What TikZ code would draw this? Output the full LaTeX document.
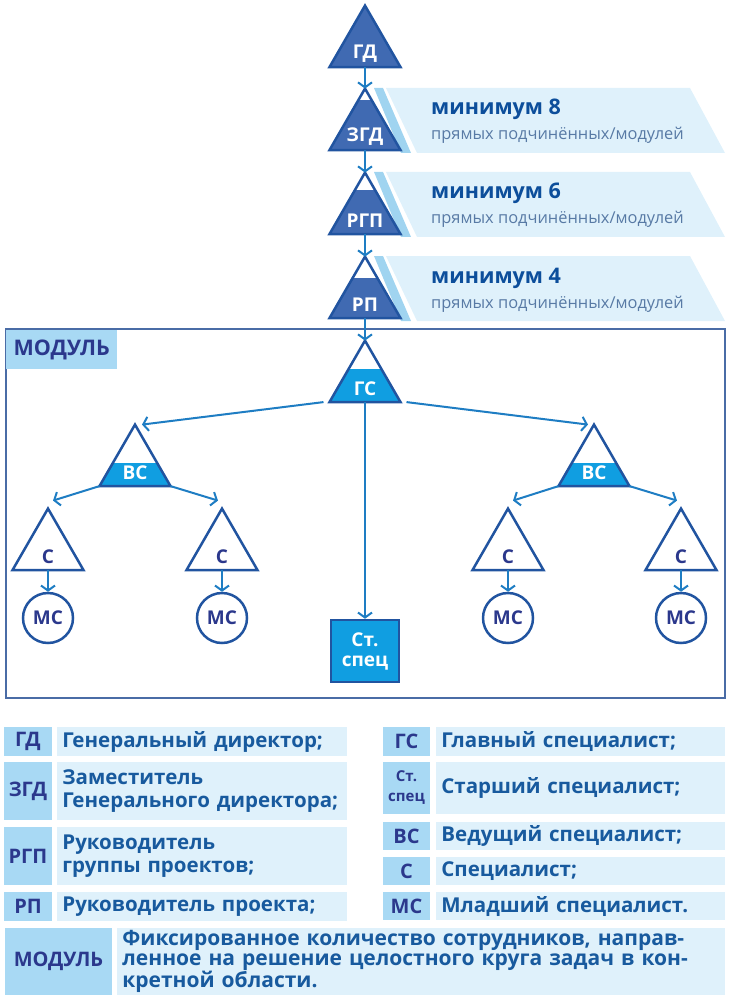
\documentclass[tikz,border=0pt]{standalone}
\usepackage{fontspec}
\setmainfont{Open Sans}
\usetikzlibrary{positioning,calc,shapes.geometric,arrows.meta}
\definecolor{rankfill}{RGB}{64,106,178}
\definecolor{rankedge}{RGB}{33,84,160}
\definecolor{cyanfill}{RGB}{16,158,225}
\definecolor{linkblue}{RGB}{30,125,195}
\definecolor{navy}{RGB}{43,56,140}
\definecolor{desctext}{RGB}{24,90,158}
\definecolor{counttext}{RGB}{12,78,155}
\definecolor{subgray}{RGB}{88,122,165}
\definecolor{panelfill}{RGB}{223,241,251}
\definecolor{stripefill}{RGB}{160,212,240}
\definecolor{abbrfill}{RGB}{168,217,244}
\definecolor{modframe}{RGB}{74,108,166}

\begin{document}
\begin{tikzpicture}[x=1pt,y=-1pt,
  rank/.style={regular polygon, regular polygon sides=3, minimum size=82pt, inner sep=0pt, outer sep=0pt, draw=rankedge, line width=2.5pt},
  part/.style={path picture={\fill[white] (path picture bounding box.north west) rectangle ($(path picture bounding box.north east)!#1!(path picture bounding box.south east)$);}},
  ranktext/.style={text=white, font=\fontsize{19}{19}\selectfont\bfseries, yshift=-7pt},
  lowtext/.style={text=navy, font=\fontsize{19}{19}\selectfont\bfseries, yshift=-7pt},
  junior/.style={circle, draw=rankedge, line width=2.5pt, minimum size=50pt, inner sep=0pt, text=navy, font=\fontsize{19}{19}\selectfont\bfseries},
  link/.style={draw=linkblue, line width=2pt, -{Straight Barb[length=5pt,width=14pt]}},
  counttext/.style={anchor=base west, inner sep=0pt, text=counttext, font=\fontsize{21.5}{22}\selectfont\bfseries},
  subtext/.style={anchor=base west, inner sep=0pt, text=subgray, font=\fontsize{16.4}{17}\selectfont},
  abbr/.style={fill=abbrfill, minimum width=48pt, inner sep=0pt, text=navy, align=center, font=\fontsize{20}{22}\selectfont\bfseries},
  desc/.style={fill=panelfill, text width=280pt, inner xsep=5pt, inner ysep=0pt, align=left, text=desctext, font=\fontsize{20.5}{23}\selectfont\bfseries}
]
\useasboundingbox (0,0) rectangle (730,1000);

% panels
\foreach \t/\n in {88/8,172/6,256/4}{
  \fill[stripefill] (374,\t) -- (383,\t) -- (411,\t+65) -- (401,\t+65) -- cycle;
  \fill[panelfill] (386,\t) -- (690,\t) -- (725,\t+65) -- (417,\t+65) -- cycle;
  \node[counttext] (min\n) at (431,\t+27) {минимум \n};
  \node[subtext] (sub\n) at (431,\t+52) {прямых подчинённых/модулей};
}

% module frame
\node[draw=modframe, line width=2pt, minimum width=719pt, minimum height=369pt, inner sep=0pt, anchor=north west] (module) at (5,328) {};
\node[fill=abbrfill, minimum width=111pt, minimum height=39pt, anchor=north west, text=navy, font=\fontsize{21.5}{22}\selectfont\bfseries] (modlabel) at (6,330) {МОДУЛЬ};

% ranks
\node[rank, fill=rankfill, label={[ranktext]center:ГД}] (gd) at (365,46.6) {};
\node[rank, fill=rankfill, part=0.18, label={[ranktext]center:ЗГД}] (zgd) at (365,129.6) {};
\node[rank, fill=rankfill, part=0.28, label={[ranktext]center:РГП}] (rgp) at (365,213.6) {};
\node[rank, fill=rankfill, part=0.34, label={[ranktext]center:РП}] (rp) at (365,297.6) {};
\node[rank, fill=cyanfill, part=0.46, label={[ranktext]center:ГС}] (gs) at (365,381.6) {};
\node[rank, fill=cyanfill, part=0.62, label={[ranktext]center:ВС}] (vsl) at (135,465.6) {};
\node[rank, fill=cyanfill, part=0.62, label={[ranktext]center:ВС}] (vsr) at (594,465.6) {};
\node[rank, fill=white, label={[lowtext]center:С}] (s1) at (48,549.6) {};
\node[rank, fill=white, label={[lowtext]center:С}] (s2) at (222,549.6) {};
\node[rank, fill=white, label={[lowtext]center:С}] (s3) at (508,549.6) {};
\node[rank, fill=white, label={[lowtext]center:С}] (s4) at (681,549.6) {};
\node[junior] (ms1) at (48,618) {МС};
\node[junior] (ms2) at (222,618) {МС};
\node[junior] (ms3) at (508,618) {МС};
\node[junior] (ms4) at (681,618) {МС};
\node[fill=cyanfill, draw=rankedge, line width=2.5pt, minimum width=68pt, minimum height=62pt, inner sep=0pt, align=center, text=white, font=\fontsize{19}{20}\selectfont\bfseries] (sts) at (365,651) {Ст.\\спец};

% links
\draw[link] (gd.south) -- (zgd.north);
\draw[link] (zgd.south) -- (rgp.north);
\draw[link] (rgp.south) -- (rp.north);
\draw[link] (rp.south) -- (gs.north);
\draw[link] ([xshift=-6pt]gs.corner 2) -- ([xshift=7pt]vsl.north);
\draw[link] ([xshift=6pt]gs.corner 3) -- ([xshift=-6pt]vsr.north);
\draw[link] (gs.south) -- (sts.north);
\draw[link] (vsl.corner 2) -- ([xshift=5pt,yshift=8pt]s1.north);
\draw[link] (vsl.corner 3) -- ([xshift=-4pt,yshift=8pt]s2.north);
\draw[link] (vsr.corner 2) -- ([xshift=5pt,yshift=8pt]s3.north);
\draw[link] (vsr.corner 3) -- ([xshift=-4pt,yshift=8pt]s4.north);
\draw[link] (s1.south) -- (ms1.north);
\draw[link] (s2.south) -- (ms2.north);
\draw[link] (s3.south) -- (ms3.north);
\draw[link] (s4.south) -- (ms4.north);

% legend
\node[abbr, minimum height=29pt] (lgd) at (28,741.5) {ГД};
\node[desc, minimum height=29pt, right=5pt of lgd] (dgd) {Генеральный директор;};
\node[abbr, minimum height=58pt] (lzgd) at (28,791) {ЗГД};
\node[desc, minimum height=58pt, right=5pt of lzgd] (dzgd) {Заместитель\\Генерального директора;};
\node[abbr, minimum height=58pt] (lrgp) at (28,856) {РГП};
\node[desc, minimum height=58pt, right=5pt of lrgp] (drgp) {Руководитель\\группы проектов;};
\node[abbr, minimum height=29pt] (lrp) at (28,906.5) {РП};
\node[desc, minimum height=29pt, right=5pt of lrp] (drp) {Руководитель проекта;};

\node[abbr, minimum width=47pt, minimum height=29pt] (lgs) at (406.5,741.5) {ГС};
\node[desc, text width=279pt, minimum height=29pt, right=6pt of lgs] (dgs) {Главный специалист;};
\node[abbr, minimum width=47pt, minimum height=52pt, font=\fontsize{15}{20}\selectfont\bfseries] (lsts) at (406.5,788) {Ст.\\спец};
\node[desc, text width=279pt, minimum height=52pt, right=6pt of lsts] (dsts) {Старший специалист;};
\node[abbr, minimum width=47pt, minimum height=28pt] (lvs) at (406.5,836) {ВС};
\node[desc, text width=279pt, minimum height=28pt, right=6pt of lvs] (dvs) {Ведущий специалист;};
\node[abbr, minimum width=47pt, minimum height=28pt] (ls) at (406.5,871) {С};
\node[desc, text width=279pt, minimum height=28pt, right=6pt of ls] (ds) {Специалист;};
\node[abbr, minimum width=47pt, minimum height=28pt] (lms) at (406.5,906) {МС};
\node[desc, text width=279pt, minimum height=28pt, right=6pt of lms] (dms) {Младший специалист.};

\node[abbr, minimum width=107pt, minimum height=67pt] (lmod) at (58.5,961.5) {МОДУЛЬ};
\node[desc, text width=598pt, minimum height=67pt, font=\fontsize{21}{20}\selectfont\bfseries, right=5pt of lmod] (dmod) {Фиксированное количество сотрудников, направ-\\ленное на решение целостного круга задач в кон-\\кретной области.};
\end{tikzpicture}
\end{document}
